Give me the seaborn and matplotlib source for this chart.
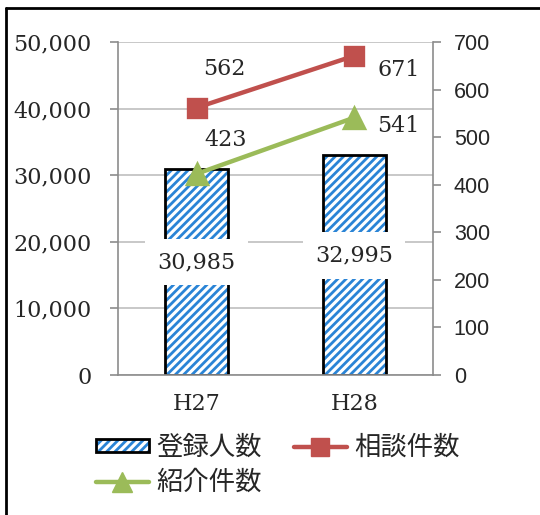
import matplotlib
matplotlib.use("Agg")
import matplotlib.pyplot as plt
import seaborn as sns
from matplotlib.patches import Rectangle, Patch
from matplotlib.lines import Line2D
from matplotlib.legend_handler import HandlerTuple
from matplotlib.ticker import FuncFormatter, MultipleLocator

# ---- data ----
categories = ["H27", "H28"]
registered = [30985, 32995]          # 登録人数 (left axis, bars)
consultations = [562, 671]           # 相談件数 (right axis, red line)
referrals = [423, 541]               # 紹介件数 (right axis, green line)
series_names = ["登録人数", "相談件数", "紹介件数"]

# ---- styles ----
BLUE = "#2A84D6"
RED = "#C0504D"
GREEN = "#9BBB59"
GRID = "#BFBFBF"
SPINE = "#8C8C8C"
SERIF = "DejaVu Serif"
SANS = "Liberation Sans"
CJK = ["Noto Sans CJK JP", "DejaVu Sans"]

sns.set_theme(style="white")
plt.rcParams["font.family"] = [SERIF]
plt.rcParams["hatch.linewidth"] = 2.0

fig = plt.figure(figsize=(5.4, 5.15), dpi=100)
ax = fig.add_axes([118 / 540, 1 - 375 / 515, (433 - 118) / 540, (375 - 42) / 515])

sns.barplot(x=categories, y=registered, ax=ax, width=0.4, color="white")
for p in list(ax.patches):
    p.set_facecolor("white")
    p.set_edgecolor(BLUE)
    p.set_hatch("////")
    p.set_linewidth(0)
    ax.add_patch(Rectangle((p.get_x(), p.get_y()), p.get_width(), p.get_height(),
                           fill=False, edgecolor="black", linewidth=2, zorder=p.get_zorder() + 0.1))

ax.set_ylim(0, 50000)
ax.yaxis.set_major_locator(MultipleLocator(10000))
ax.yaxis.set_major_formatter(FuncFormatter(lambda v, _: f"{int(v):,}"))
ax.set_axisbelow(True)
ax.grid(axis="y", color=GRID, linewidth=1.2)
ax.grid(axis="x", visible=False)
for s in ["top", "right"]:
    ax.spines[s].set_visible(False)
for s in ["left", "bottom"]:
    ax.spines[s].set_color(SPINE)
    ax.spines[s].set_linewidth(1.2)
ax.tick_params(axis="y", which="major", direction="out", length=6, width=1.2,
               color=SPINE, left=True, labelsize=16, pad=13)
ax.tick_params(axis="x", length=0, labelsize=16, pad=13)
ax.set_xlabel("")
ax.set_ylabel("")

# bar labels with white boxes
for i, v in enumerate(registered):
    ax.annotate(f"{v:,}", (i, v / 2), xytext=(0, 7), textcoords="offset points",
                ha="center", va="center", fontsize=16, family=SERIF, zorder=5,
                bbox=dict(boxstyle="square,pad=0.55", facecolor="white", edgecolor="none"))

# ---- right axis lines ----
ax2 = ax.twinx()
sns.pointplot(x=categories, y=consultations, ax=ax2, color=RED, marker="s",
              markersize=13, linewidth=3.2, errorbar=None)
sns.pointplot(x=categories, y=referrals, ax=ax2, color=GREEN, marker="^",
              markersize=14, linewidth=3.2, errorbar=None)
ax2.set_ylim(0, 700)
ax2.yaxis.set_major_locator(MultipleLocator(100))
ax2.grid(False)
for s in ["top", "left", "bottom"]:
    ax2.spines[s].set_visible(False)
ax2.spines["right"].set_color(SPINE)
ax2.spines["right"].set_linewidth(1.2)
ax2.tick_params(axis="y", direction="out", length=6, width=1.2, color=SPINE,
                right=True, labelsize=15.5, pad=9)
for lab in ax2.get_yticklabels():
    lab.set_family(SANS)
ax2.set_xlabel("")
ax2.set_ylabel("")
ax.set_xlim(-0.5, len(categories) - 0.5)

red_offsets = [(20, 28), (32, -10)]
green_offsets = [(21, 24), (32, -6)]
for i, v in enumerate(consultations):
    ax2.annotate(f"{v}", (i, v), xytext=red_offsets[i], textcoords="offset points",
                 ha="center", va="center", fontsize=16, family=SERIF)
for i, v in enumerate(referrals):
    ax2.annotate(f"{v}", (i, v), xytext=green_offsets[i], textcoords="offset points",
                 ha="center", va="center", fontsize=16, family=SERIF)

# ---- legend ----
bar_handle = (Patch(facecolor="white", edgecolor=BLUE, hatch="////", linewidth=0),
              Patch(facecolor="none", edgecolor="black", linewidth=2))
red_handle = Line2D([], [], color=RED, marker="s", markersize=13, linewidth=3.2)
green_handle = Line2D([], [], color=GREEN, marker="^", markersize=14, linewidth=3.2)
leg = fig.legend([bar_handle, green_handle, red_handle],
                 [series_names[0], series_names[2], series_names[1]],
                 handler_map={tuple: HandlerTuple(ndivide=1, pad=0)},
                 loc="upper left", bbox_to_anchor=(96 / 540, 1 - 434 / 515),
                 ncol=2, frameon=False, borderpad=0, borderaxespad=0,
                 handlelength=2.0, handleheight=0.4, handletextpad=0.3,
                 columnspacing=1.2, labelspacing=0.3,
                 prop={"family": CJK, "size": 19})

# ---- outer frame (partially visible) ----
fig.add_artist(Line2D([6 / 540, 6 / 540], [0, 1 - 8 / 515], color="black", linewidth=2,
                      transform=fig.transFigure))
fig.add_artist(Line2D([6 / 540, 1], [1 - 8 / 515, 1 - 8 / 515], color="black", linewidth=2,
                      transform=fig.transFigure))

fig.savefig("out.png", dpi=100)
